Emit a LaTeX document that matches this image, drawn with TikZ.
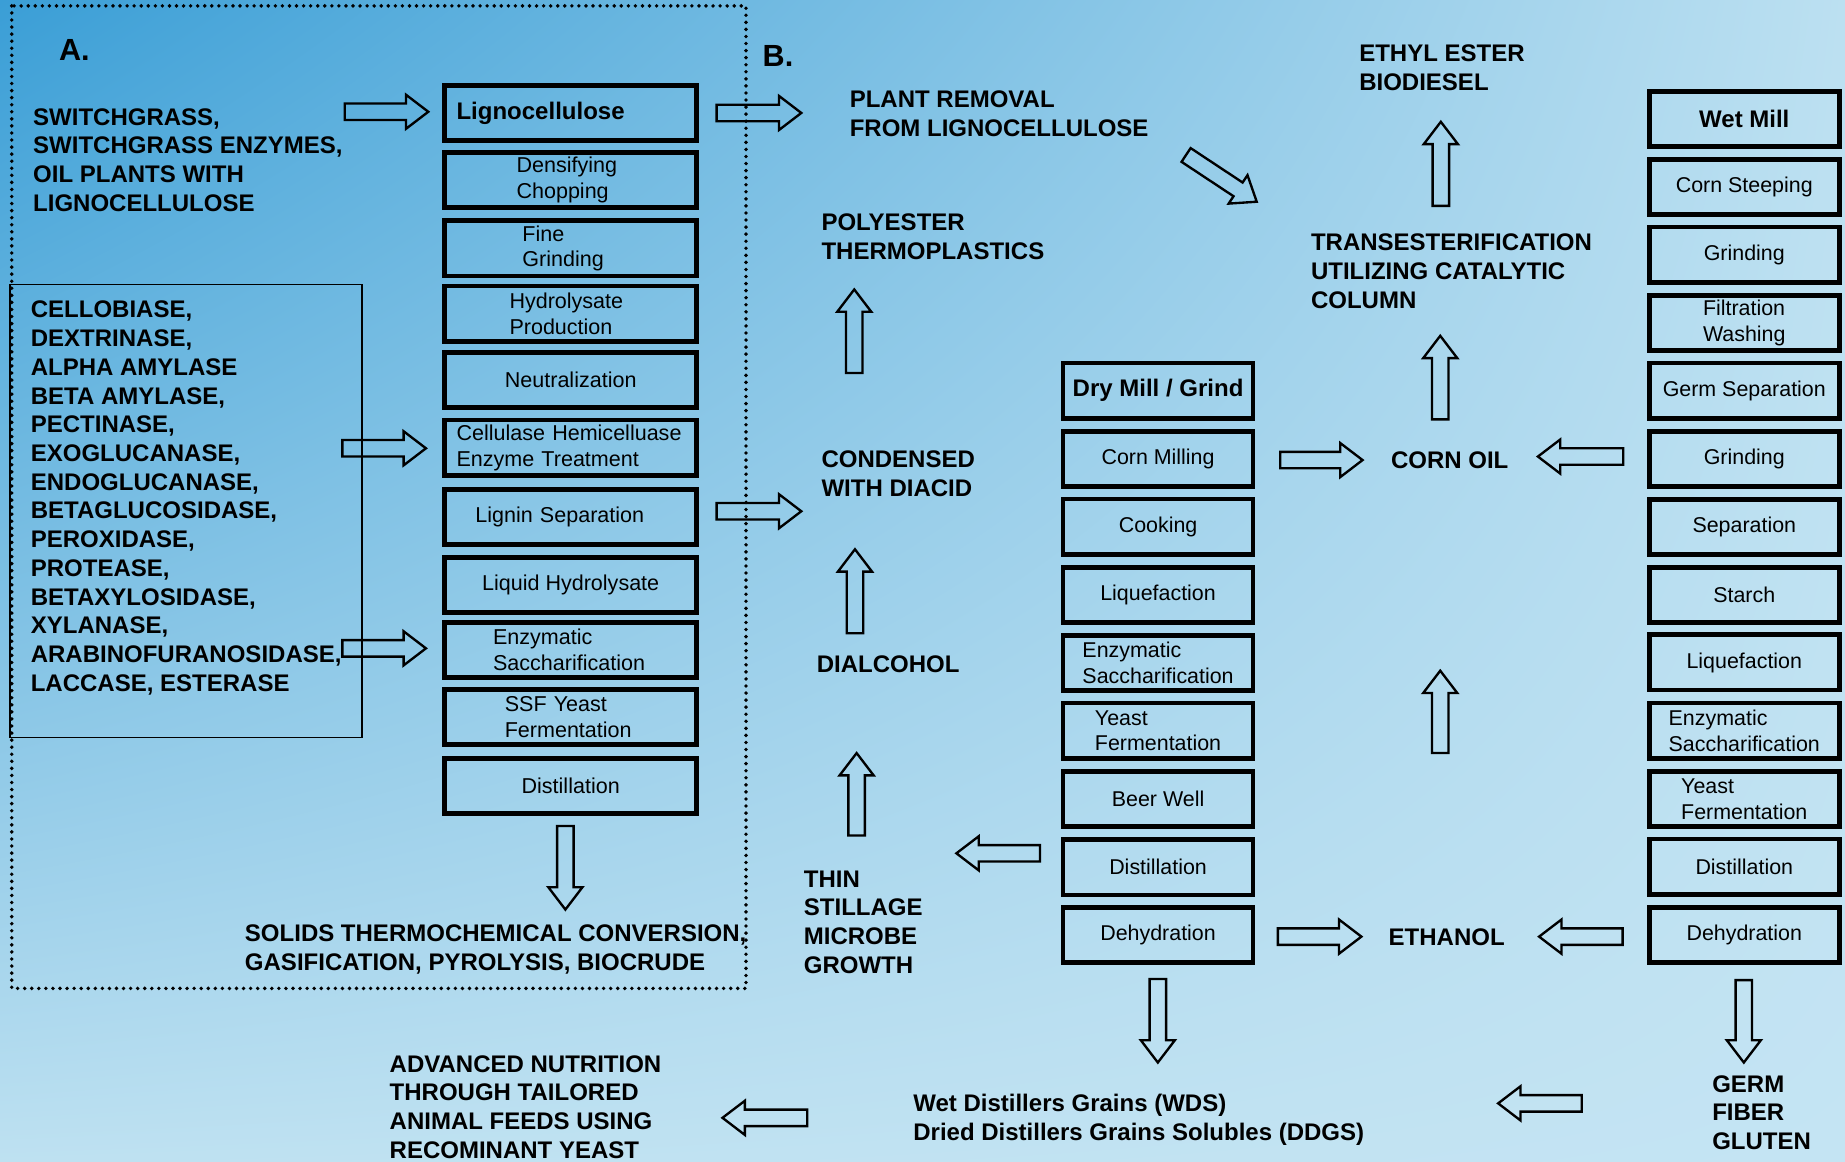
\documentclass[tikz,border=0pt]{standalone}
\usepackage{fontspec}
\setmainfont{Liberation Sans}
\usetikzlibrary{shadings}
\definecolor{bgUL}{RGB}{58,158,214}
\definecolor{bgUR}{RGB}{188,224,241}
\definecolor{bgLL}{RGB}{190,225,241}
\definecolor{bgLR}{RGB}{196,228,243}
\begin{document}
\begin{tikzpicture}[x=1pt,y=-1pt,
  box/.style={draw=black, line width=4pt, minimum height=47pt, inner sep=0pt, align=left, text=black},
  boxA/.style={box, minimum width=214pt, font=\fontsize{18.3}{21.8}\selectfont},
  lp/.style={text width={214pt-2*#1}, inner xsep=#1},
  boxB/.style={box, minimum width=161.5pt, font=\fontsize{18.2}{22}\selectfont},
  lbl/.style={anchor=north west, inner sep=0pt, align=left, font=\bfseries\fontsize{20.4}{24.4}\selectfont},
  big/.style={anchor=north west, inner sep=0pt, font=\bfseries\fontsize{26}{30}\selectfont},
  arrowline/.style={draw=black, line width=2pt, line join=miter},
  pics/barr/.style={code={\draw[arrowline] (0,-7) -- ({#1-19},-7) -- ({#1-19},-14.5) -- (#1,0) -- ({#1-19},14.5) -- ({#1-19},7) -- (0,7) -- cycle;}},
  dotframe/.style={draw=black, line width=3.3pt, dash pattern=on 0pt off 6pt, line cap=round}
]
% background
\shade[upper left=bgUL, upper right=bgUR, lower left=bgLL, lower right=bgLR] (0,0) rectangle (1568,987);
\useasboundingbox (0,0) rectangle (1568,987);

% ---------- Part A ----------
\draw[dotframe] (10,5) rectangle (634,840);
\node[big] (labA) at (50,33.7) {A.};
\node[lbl] (switch) at (28,91.8) {SWITCHGRASS,\\SWITCHGRASS ENZYMES,\\OIL PLANTS WITH\\LIGNOCELLULOSE};
\node[draw=black, line width=1.3pt, anchor=north west, minimum width=299pt, minimum height=385pt, inner sep=0pt] (enzframe) at (8,241) {};
\node[lbl] (enz) at (26,255.8) {CELLOBIASE,\\DEXTRINASE,\\ALPHA AMYLASE\\BETA AMYLASE,\\PECTINASE,\\EXOGLUCANASE,\\ENDOGLUCANASE,\\BETAGLUCOSIDASE,\\PEROXIDASE,\\PROTEASE,\\BETAXYLOSIDASE,\\XYLANASE,\\ARABINOFURANOSIDASE,\\LACCASE, ESTERASE};

\node[boxA, lp=10pt, font=\bfseries\fontsize{20.4}{24}\selectfont] (a1) at (485,96) {Lignocellulose};
\node[boxA, lp=61pt] (a2) at (485,153) {Densifying\\Chopping};
\node[boxA, lp=66pt] (a3) at (485,211) {Fine\\Grinding};
\node[boxA, lp=55pt] (a4) at (485,266.5) {Hydrolysate\\Production};
\node[boxA] (a5) at (485,323) {Neutralization};
\node[boxA, lp=10pt] (a6) at (485,380.5) {Cellulase Hemicelluase\\Enzyme Treatment};
\node[boxA, lp=26pt] (a7) at (485,439.5) {Lignin Separation};
\node[boxA] (a8) at (485,497) {Liquid Hydrolysate};
\node[boxA, lp=41pt] (a9) at (485,552.5) {Enzymatic\\Saccharification};
\node[boxA, lp=51pt] (a10) at (485,609.5) {SSF Yeast\\Fermentation};
\node[boxA] (a11) at (485,668) {Distillation};

\node[lbl] (solids) at (208,785.8) {SOLIDS THERMOCHEMICAL CONVERSION,\\GASIFICATION, PYROLYSIS, BIOCRUDE};

\pic at (293,95) {barr=71};
\pic at (291,381) {barr=71};
\pic at (291,551) {barr=71};
\pic at (609,96) {barr=72};
\pic at (609,434.5) {barr=72};
\pic[rotate=-90] at (480.5,702) {barr=71};

% ---------- Part B ----------
\node[big] (labB) at (648,38.7) {B.};
\node[lbl] (plant) at (722,76.8) {PLANT REMOVAL\\FROM LIGNOCELLULOSE};
\node[lbl] (poly) at (698,181.8) {POLYESTER\\THERMOPLASTICS};
\node[lbl] (cond) at (698,382.8) {CONDENSED\\WITH DIACID};
\node[lbl] (dial) at (694,556.8) {DIALCOHOL};
\node[lbl] (thin) at (683,739.8) {THIN\\STILLAGE\\MICROBE\\GROWTH};
\node[lbl] (ethyl) at (1155,37.8) {ETHYL ESTER\\BIODIESEL};
\node[lbl] (trans) at (1114,198.8) {TRANSESTERIFICATION\\UTILIZING CATALYTIC\\COLUMN};
\node[lbl] (cornoil) at (1182,383.8) {CORN OIL};
\node[lbl] (ethanol) at (1180,788.8) {ETHANOL};
\node[lbl] (germ) at (1455,913.8) {GERM\\FIBER\\GLUTEN};
\node[lbl] (wds) at (776,929.8) {Wet Distillers Grains (WDS)\\Dried Distillers Grains Solubles (DDGS)};
\node[lbl] (adv) at (331,896.8) {ADVANCED NUTRITION\\THROUGH TAILORED\\ANIMAL FEEDS USING\\RECOMINANT YEAST};

% Dry mill column
\node[boxB, font=\bfseries\fontsize{20.4}{24}\selectfont] (d1) at (984.2,332) {Dry Mill / Grind};
\node[boxB] (d2) at (984.2,390) {Corn Milling};
\node[boxB] (d3) at (984.2,447.5) {Cooking};
\node[boxB] (d4) at (984.2,505.5) {Liquefaction};
\node[boxB] (d5) at (984.2,563.6) {Enzymatic\\Saccharification};
\node[boxB] (d6) at (984.2,621) {Yeast\\Fermentation};
\node[boxB] (d7) at (984.2,679) {Beer Well};
\node[boxB] (d8) at (984.2,737) {Distillation};
\node[boxB] (d9) at (984.2,794.5) {Dehydration};

% Wet mill column
\node[boxB, font=\bfseries\fontsize{20.4}{24}\selectfont] (w1) at (1482.4,101) {Wet Mill};
\node[boxB] (w2) at (1482.4,159) {Corn Steeping};
\node[boxB] (w3) at (1482.4,216.5) {Grinding};
\node[boxB] (w4) at (1482.4,274.5) {Filtration\\Washing};
\node[boxB] (w5) at (1482.4,332) {Germ Separation};
\node[boxB] (w6) at (1482.4,390) {Grinding};
\node[boxB] (w7) at (1482.4,448) {Separation};
\node[boxB] (w8) at (1482.4,505.5) {Starch};
\node[boxB] (w9) at (1482.4,563) {Liquefaction};
\node[boxB] (w10) at (1482.4,621) {Enzymatic\\Saccharification};
\node[boxB] (w11) at (1482.4,679) {Yeast\\Fermentation};
\node[boxB] (w12) at (1482.4,736.5) {Distillation};
\node[boxB] (w13) at (1482.4,794.5) {Dehydration};

% block arrows in part B
\pic[rotate=-33.5] at (1008,131.7) {barr=72};
\pic[rotate=90] at (1224.5,175) {barr=71.5};
\pic[rotate=90] at (1224,356.4) {barr=71};
\pic at (1088,391) {barr=70};
\pic[rotate=180] at (1379.5,388) {barr=72.5};
\pic[rotate=90] at (1224,640) {barr=70};
\pic at (1086,796) {barr=71};
\pic[rotate=180] at (1379,796) {barr=71};
\pic[rotate=-90] at (1482,833) {barr=70};
\pic[rotate=-90] at (984,832) {barr=71};
\pic[rotate=180] at (1344.2,937.7) {barr=71};
\pic[rotate=180] at (686,950) {barr=72};
\pic[rotate=180] at (883.8,725.2) {barr=71};
\pic[rotate=90] at (728,710) {barr=70};
\pic[rotate=90] at (726.6,538.2) {barr=71.4};
\pic[rotate=90] at (726,317) {barr=71};
\end{tikzpicture}
\end{document}
